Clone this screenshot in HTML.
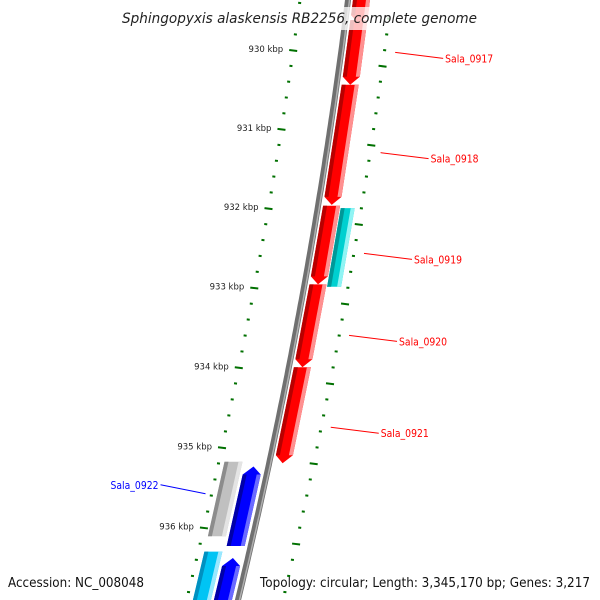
<!DOCTYPE html>
<html><head><meta charset="utf-8"><style>
html,body{margin:0;padding:0;background:#fff;width:600px;height:600px;overflow:hidden}
svg{display:block;font-family:"DejaVu Sans","Liberation Sans",sans-serif}
</style></head><body>
<svg id="map" width="600" height="600" viewBox="0 0 600 600">
<g id="backbone-g"></g>
<g id="ticks-g"></g>
<g id="genes-g"></g>
<g id="labels-g"></g>
<rect x="118" y="7" width="362" height="23" fill="#fff" fill-opacity="0.75"/>
<text x="122" y="23" textLength="355" lengthAdjust="spacingAndGlyphs" font-size="14" font-style="italic" fill="#222">Sphingopyxis alaskensis RB2256, complete genome</text>
<text x="8" y="587" textLength="136" lengthAdjust="spacingAndGlyphs" font-size="13" fill="#111">Accession: NC_008048</text>
<text x="260" y="587" textLength="330" lengthAdjust="spacingAndGlyphs" font-size="13" fill="#111">Topology: circular; Length: 3,345,170 bp; Genes: 3,217</text>
</svg>
<script>
// data
const tickKbp = [930, 931, 932, 933, 934, 935, 936];
const geneNames = ["Sala_0916","Sala_0917","Sala_0918","Sala_0919","Sala_0919b","Sala_0920","Sala_0921","Sala_0922g","Sala_0922","Sala_0923c","Sala_0923"];
const geneStart = [929.3, 929.62, 930.44, 931.97, 932.0, 932.96, 934.0, 935.18, 935.24, 936.3, 936.38];
const geneEnd   = [929.66, 930.44, 931.96, 932.96, 932.99, 934.0, 935.2, 936.11, 936.23, 937.0, 937.0];
const geneTrack = ["r","r","r","r","c","r","r","g","b","s","b"];
const geneArrow = ["end","end","end","end","none","end","end","none","start","none","start"];
const labelGenes = ["Sala_0917","Sala_0918","Sala_0919","Sala_0920","Sala_0921","Sala_0922"];
const labelKbp  = [930.03, 931.3, 932.57, 933.6, 934.75, 935.58];

const NS="http://www.w3.org/2000/svg";
function yOf(k){const d=k-930;return 50+78.8*d+0.13*d*d;}
function bb(y){return 348-0.1256*y-0.0000963*y*y;}
const tracks={r:[5,22,"#ff0000","#b80000","#ff9090"],c:[23,37,"#00d0d0","#009898","#90f4f4"],g:[-45,-27,"#c0c0c0","#8c8c8c","#e4e4e4"],b:[-24,-6,"#0000ff","#0000a8","#6a6aff"],s:[-45,-27,"#00c4f4","#0090c0","#9ae8ff"]};

// backbone
const bg=document.getElementById('backbone-g');
let d="";for(let y=-5;y<=605;y+=5){d+=(y<0?"M":"L")+bb(y).toFixed(1)+" "+y+" ";}
const bp1=document.createElementNS(NS,'path');bp1.setAttribute('d',d);bp1.setAttribute('stroke','#707070');bp1.setAttribute('stroke-width','6');bp1.setAttribute('fill','none');


bg.appendChild(bp1);
const bp2=document.createElementNS(NS,'path');bp2.setAttribute('d',d);bp2.setAttribute('stroke','#b0b0b0');bp2.setAttribute('stroke-width','1.5');bp2.setAttribute('fill','none');bp2.setAttribute('transform','translate(1.5,0)');


bg.appendChild(bp2);

// ticks
const tg=document.getElementById('ticks-g');
function inOff(y){return -48-3*y/523;}
function outOff(y){return 43+2*y/600;}
function tick(x,y,len,name){const l=document.createElementNS(NS,'line');l.setAttribute('x1',x-len/2);l.setAttribute('x2',x+len/2);l.setAttribute('y1',y);l.setAttribute('y2',y+len*0.12);l.setAttribute('stroke','#007000');l.setAttribute('stroke-width','2');


tg.appendChild(l);}
for(let i=-5;i<=40;i++){const k=929+i*0.2;const y=yOf(k);if(y<-5||y>605)continue;
 const major=Math.abs(k-Math.round(k))<0.01;
 tick(bb(y)+inOff(y),y,major?8:3,major?'inner-major-tick':'inner-minor-tick');
 const yo=yOf(k+0.2);
 tick(bb(yo)+outOff(yo),yo,major?8:3,major?'outer-major-tick':'outer-minor-tick');}
tickKbp.forEach(k=>{const y=yOf(k);const t=document.createElementNS(NS,'text');t.setAttribute('x',bb(y)+inOff(y)-10);t.setAttribute('y',y+2);t.setAttribute('text-anchor','end');t.setAttribute('font-size','8.5');t.setAttribute('fill','#222');t.textContent=k+' kbp';


tg.appendChild(t);});

// genes
const gg=document.getElementById('genes-g');
geneNames.forEach((n,i)=>{const tr=tracks[geneTrack[i]];const y1=yOf(geneStart[i]),y2=yOf(geneEnd[i]);const a=geneArrow[i];const L=8;
 const P=(y,o)=>(bb(y)+o).toFixed(1)+","+y.toFixed(1);const mid=(tr[0]+tr[1])/2;let pts=[];
 let b1=y1,b2=y2;
 if(a==="end"){pts=[P(y1,tr[0]),P(y1,tr[1]),P(y2-L,tr[1]),P(y2,mid),P(y2-L,tr[0])];b2=y2-L;}
 else if(a==="start"){pts=[P(y1,mid),P(y1+L,tr[1]),P(y2,tr[1]),P(y2,tr[0]),P(y1+L,tr[0])];b1=y1+L;}
 else {pts=[P(y1,tr[0]),P(y1,tr[1]),P(y2,tr[1]),P(y2,tr[0])];}
 const p=document.createElementNS(NS,'polygon');p.setAttribute('points',pts.join(' '));p.setAttribute('fill',tr[2]);
 
 
 gg.appendChild(p);
 const dk=document.createElementNS(NS,'polygon');dk.setAttribute('points',[P(b1,tr[0]),P(b1,tr[0]+4),P(b2,tr[0]+4),P(b2,tr[0])].join(' '));dk.setAttribute('fill',tr[3]);
 
 
 gg.appendChild(dk);
 const lt=document.createElementNS(NS,'polygon');lt.setAttribute('points',[P(b1,tr[1]-4),P(b1,tr[1]),P(b2,tr[1]),P(b2,tr[1]-4)].join(' '));lt.setAttribute('fill',tr[4]);
 
 
 gg.appendChild(lt);});

// labels
const lg=document.getElementById('labels-g');
labelGenes.forEach((n,i)=>{const y=yOf(labelKbp[i]);const left=n==="Sala_0922";
 const l=document.createElementNS(NS,'line');
 let x1,x2,ty;
 if(!left){x1=bb(y)+54;x2=x1+48;ty=y+6;}else{x1=bb(y)-57;x2=x1-45;ty=y-9;}
 l.setAttribute('x1',x1);l.setAttribute('y1',y);l.setAttribute('x2',x2);l.setAttribute('y2',ty);l.setAttribute('stroke',left?'#0000ff':'#ff0000');l.setAttribute('stroke-width','1');
 
 
 lg.appendChild(l);
 const t=document.createElementNS(NS,'text');t.setAttribute('x',left?x2-2:x2+2);t.setAttribute('y',ty+4);t.setAttribute('text-anchor',left?'end':'start');t.setAttribute('font-size','10.5');t.setAttribute('textLength','48');t.setAttribute('lengthAdjust','spacingAndGlyphs');t.setAttribute('fill',left?'#0000ff':'#ff0000');t.textContent=n;
 
 
 lg.appendChild(t);});
</script>
</body></html>
